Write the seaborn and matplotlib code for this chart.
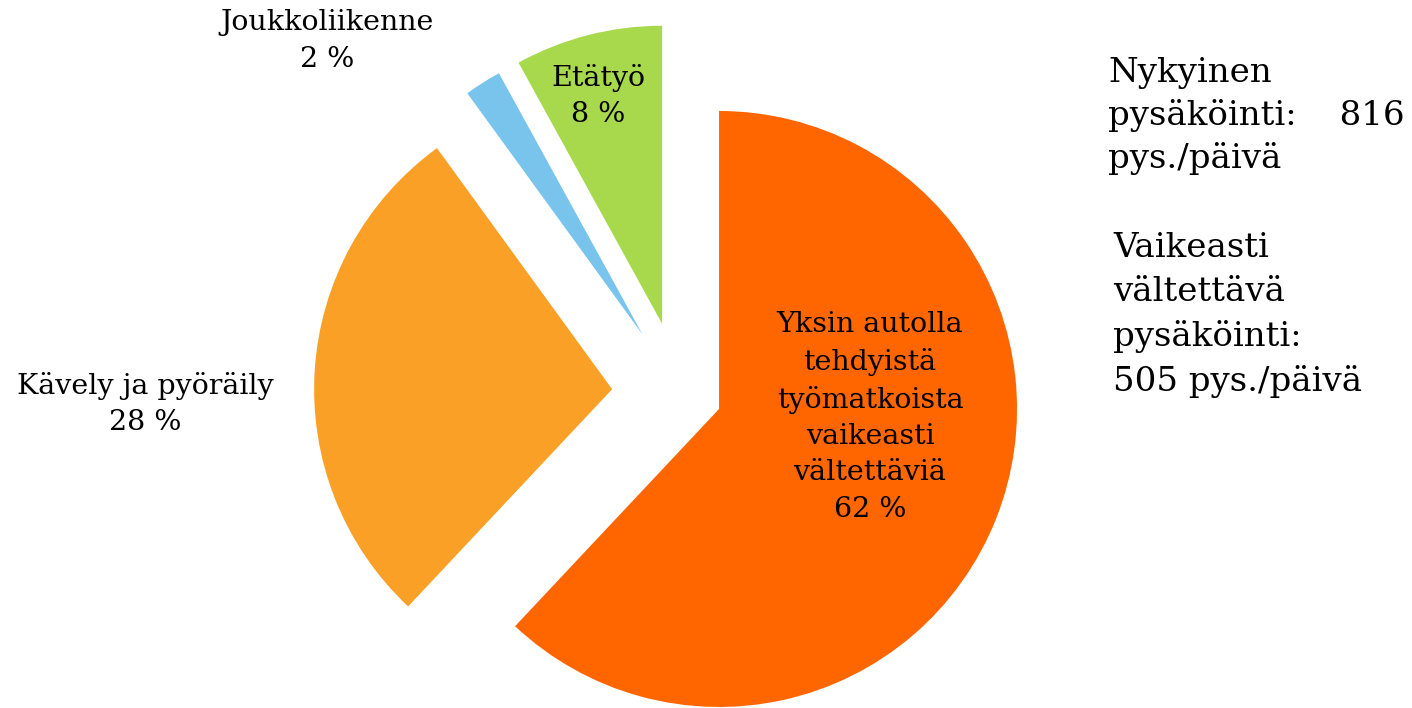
import matplotlib
matplotlib.use("Agg")
import matplotlib.pyplot as plt
import seaborn as sns

sns.set_theme(style="white")
plt.rcParams['font.family'] = ['DejaVu Serif', 'DejaVu Sans']
plt.rcParams['text.color'] = 'black'

# data
categories = ["Yksin autolla\ntehdyistä\ntyömatkoista\nvaikeasti\nvältettäviä",
              "Kävely ja pyöräily", "Joukkoliikenne", "Etätyö"]
shares = [62, 28, 2, 8]
colors = ["#FF6600", "#FBA026", "#78C4EC", "#A8D84C"]
# explode distances in pixels (matplotlib uses data units)
explode = [42, 68, 70, 72]

# label placement (pixel coords of the 1412x708 canvas, y from top)
label_pos = [(870, 417), (145, 404), (327, 41), (598, 96)]

side_text_1 = "Nykyinen\npysäköinti:    816\npys./päivä"
side_text_2 = "Vaikeasti\nvältettävä\npysäköinti:\n505 pys./päivä"

W, H = 1412, 708
fig = plt.figure(figsize=(W / 100, H / 100), dpi=100)
ax = fig.add_axes([0, 0, 1, 1])

ax.pie(shares, colors=colors, explode=explode, startangle=90,
       counterclock=False, center=(680, H - 393.5), radius=298,
       wedgeprops=dict(linewidth=0))

ax.set_xlim(0, W)
ax.set_ylim(0, H)
ax.set_aspect('equal')
ax.axis('off')

for name, val, (x, y) in zip(categories, shares, label_pos):
    ax.text(x, H - y, f"{name}\n{val} %", ha='center', va='center',
            fontsize=20.5, linespacing=1.44, color='black')

ax.text(1108, H - 116, side_text_1, ha='left', va='center', fontsize=24.5,
        linespacing=1.38, color='black')
ax.text(1113, H - 315, side_text_2, ha='left', va='center', fontsize=24.5,
        linespacing=1.46, color='black')

fig.savefig("out.png", dpi=100)
